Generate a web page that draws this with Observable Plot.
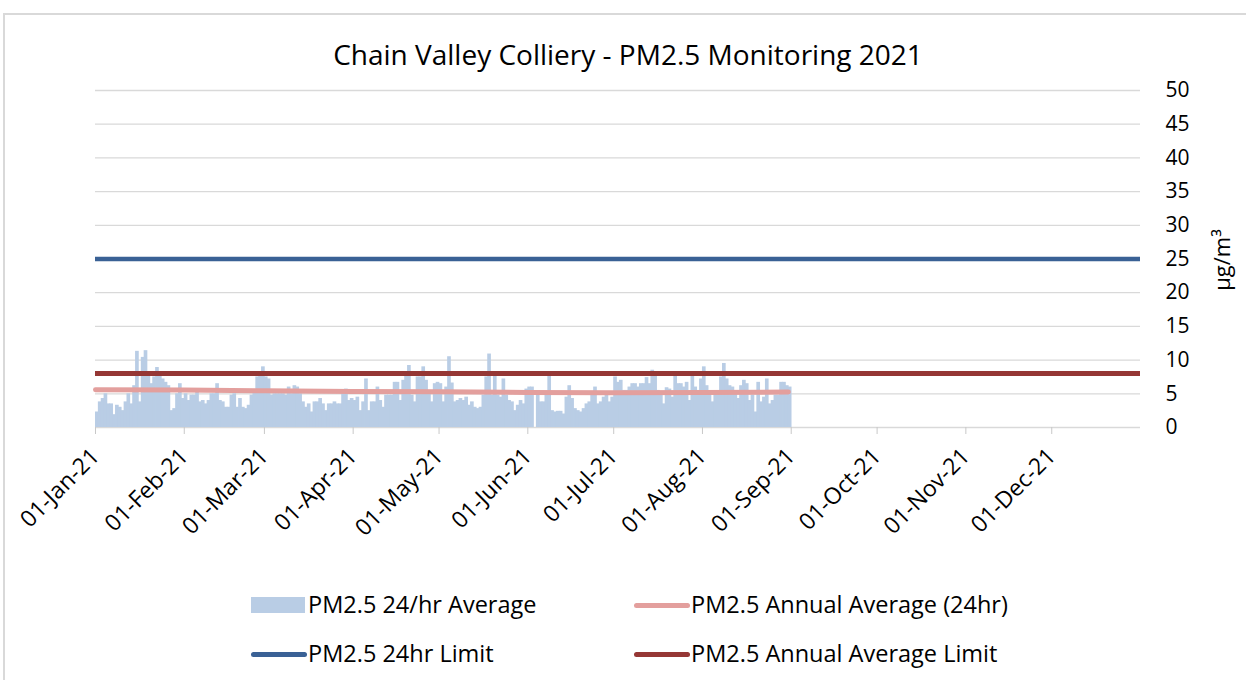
<!DOCTYPE html>
<html><head><meta charset="utf-8">
<script src="https://cdn.jsdelivr.net/npm/d3@7"></script>
<script src="https://cdn.jsdelivr.net/npm/@observablehq/plot@0.6"></script>
<style>
body{margin:0;background:#fff;font-family:"Open Sans",Lato,sans-serif;color:#000;width:1246px;height:680px;overflow:hidden;position:relative;}
#frame{position:absolute;left:3px;top:13px;width:1260px;height:700px;border:2px solid #d9d9d9;box-sizing:border-box;}
#title{position:absolute;left:0;width:1256px;top:34px;text-align:center;font-size:28px;line-height:40px;}
#chart{position:absolute;left:0;top:0;}
#ylab{position:absolute;left:1221px;top:260px;transform:translate(-50%,-50%) rotate(-90deg);font-size:22px;white-space:nowrap;}
.lg{position:absolute;font-size:23.5px;line-height:32px;white-space:nowrap;}
.sw{position:absolute;}
</style></head>
<body>
<div id="frame"></div>
<div id="title">Chain Valley Colliery - PM2.5 Monitoring 2021</div>
<div id="chart"></div>
<div id="ylab">µg/m³</div>
<div id="legend"></div>
<script>
// Daily PM2.5 24hr averages (µg/m³), 2021
const jan = [2.3,3.8,4.3,5.0,3.5,3.5,1.9,3.3,3.0,2.5,3.8,5.0,3.5,6.2,11.3,3.8,10.4,11.4,7.7,6.5,7.5,8.9,7.7,7.2,6.7,6.2,2.5,2.8,5.0,6.5,4.3];
const feb = [5,4,4.8,4.8,5.2,3.8,4,3.5,4,5,5,6.5,4,3.8,3,3,4.8,5,3,4.3,3,2.8,3.3,4.8,5.5,7.5,7.7,9.0];
const mar = [7.5,7.2,4.8,5,5,5,5,4.8,6,5,6.2,6,5,3.8,3,3.5,2.3,3.8,3.8,4.3,3.5,2.5,3.5,3.5,3.8,3.5,3.5,5,5.7,4,4.3];
const apr = [4,4.5,2.5,3.8,7.2,2.5,3.8,3.8,6,4,3,4.8,4.8,4.8,6.7,6.7,4,7,7.7,9.2,4.8,3.8,7.5,7.5,9,7,5.5,3.8,6.5,6.7];
const may = [6.5,3.8,6,10.5,6.6,3.8,4,4.3,4,4.5,3.3,3.8,3,2.8,3,4.8,7.5,10.9,4.8,7.6,4.8,4.5,7.2,4.8,4,3.8,2.5,3.3,4,3.5,5.7];
const jun = [6,6,null,5,3.8,3.8,4.8,7.7,2.5,2.3,2.4,2.4,2.0,4.5,6.2,4.3,2.8,2.5,2.3,2.8,3.5,3.8,5,6,3.5,3.8,4.5,4.8,3.8,4.5];
const jul = [7.5,6.7,7,5.5,5.5,6,6.5,6.5,6,6.5,6.5,7.4,6.5,8.5,7.7,5.5,5,3.5,5.9,5.7,4.5,7.7,6.5,6.5,6,6.7,4,7.7,6,5.5,7.2];
const aug = [9,6.2,4.8,3.8,5,5,7.5,9.5,7.2,6.2,6,5.2,4.3,6.2,7,6.5,4,4.8,2.3,6.7,3.8,4.5,7.2,3.5,4,4.8,4.8,6.7,6.7,6.2,6];
const months = [jan, feb, mar, apr, may, jun, jul, aug];

// Annual average (24hr) line, read at points
const annualDates = ["2021-01-01","2021-02-01","2021-03-01","2021-04-01","2021-05-01","2021-06-01","2021-07-01","2021-08-01","2021-08-31"];
const annualValues = [5.6,5.55,5.45,5.35,5.3,5.2,5.15,5.2,5.25];

const limit24 = 25;
const annualLimit = 8;
const yTicks = [0,5,10,15,20,25,30,35,40,45,50];
const xTickLabels = ["2021-01-01","2021-02-01","2021-03-01","2021-04-01","2021-05-01","2021-06-01","2021-07-01","2021-08-01","2021-09-01","2021-10-01","2021-11-01","2021-12-01"];

const daily = [];
months.forEach((arr, m) => arr.forEach((v, i) => {
  if (v != null) daily.push({date: new Date(Date.UTC(2021, m, i + 1)), value: v});
}));
const annual = annualDates.map((d, i) => ({date: new Date(d + "T00:00:00Z"), value: annualValues[i]}));

const plot = Plot.plot({
  width: 1246, height: 560,
  marginLeft: 95, marginRight: 106, marginTop: 90, marginBottom: 133,
  style: {fontFamily: "'Open Sans', Lato, sans-serif", fontSize: "21px", color: "#000", background: "transparent"},
  x: {type: "utc", domain: [new Date("2021-01-01T00:00:00Z"), new Date("2022-01-01T00:00:00Z")]},
  y: {domain: [0, 50]},
  marks: [
    Plot.gridY(yTicks, {stroke: "#d9d9d9", strokeOpacity: 1, strokeWidth: 1.3}),
    Plot.rectY(daily, {x: "date", y: "value", interval: d3.utcDay, fill: "#b9cde5", insetLeft: 0, insetRight: -0.8}),
    Plot.line(annual, {x: "date", y: "value", stroke: "#e39f9d", strokeWidth: 5}),
    Plot.ruleY([limit24], {stroke: "#3a6195", strokeWidth: 4.5}),
    Plot.ruleY([annualLimit], {stroke: "#953735", strokeWidth: 5}),
    Plot.axisX(xTickLabels.map(d => new Date(d + "T00:00:00Z")), {tickFormat: d3.utcFormat("%d-%b-%y"), tickRotate: -45, tickSize: 7, tickPadding: 18, stroke: "#c8c8c8", fontSize: "23px", label: null}),
    Plot.axisY(yTicks, {anchor: "right", tickSize: 0, tickPadding: 25, label: null, textAnchor: "start"})
  ]
});
document.getElementById("chart").appendChild(plot);

// Legend
const legendItems = [
  {label: "PM2.5 24/hr Average", kind: "rect", color: "#b9cde5", x: 251, y: 605},
  {label: "PM2.5 Annual Average (24hr)", kind: "line", color: "#e39f9d", x: 634, y: 605},
  {label: "PM2.5 24hr Limit", kind: "line", color: "#3a6195", x: 251, y: 654},
  {label: "PM2.5 Annual Average Limit", kind: "line", color: "#953735", x: 634, y: 654}
];
const lg = document.getElementById("legend");
legendItems.forEach(it => {
  const sw = document.createElement("div");
  sw.className = "sw";
  if (it.kind === "rect") {
    sw.style.cssText = `left:${it.x}px;top:${it.y - 8}px;width:54px;height:16px;background:${it.color};`;
  } else {
    sw.style.cssText = `left:${it.x}px;top:${it.y - 2.5}px;width:56px;height:5px;border-radius:3px;background:${it.color};`;
  }
  lg.appendChild(sw);
  const t = document.createElement("div");
  t.className = "lg";
  t.textContent = it.label;
  t.style.left = (it.x + 57) + "px";
  t.style.top = (it.y - 17) + "px";
  lg.appendChild(t);
});
</script>
</body></html>
